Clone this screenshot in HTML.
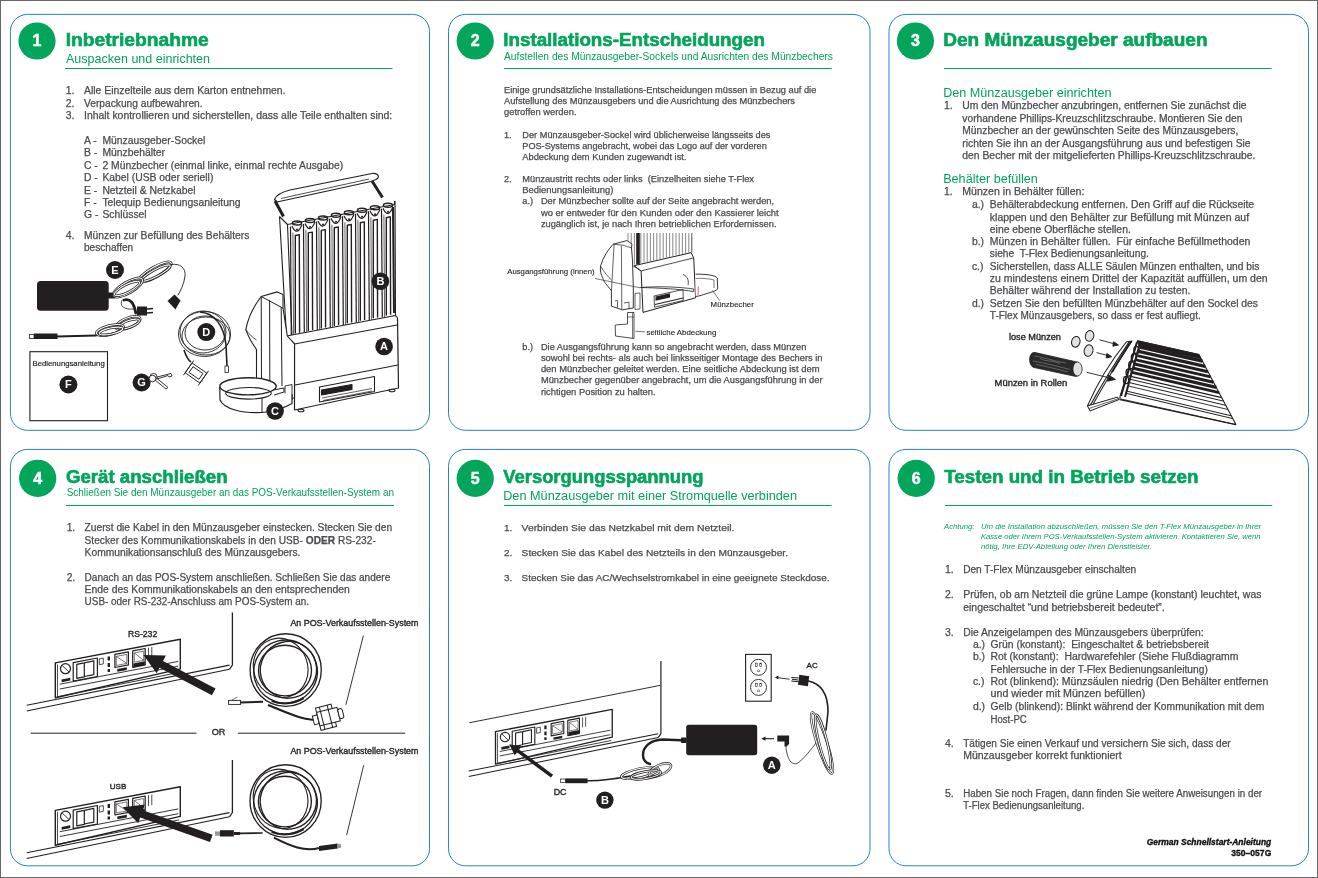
<!DOCTYPE html>
<html><head><meta charset="utf-8"><title>T-Flex Schnellstart</title>
<style>
html,body{margin:0;padding:0;background:#fff;}
body{width:1318px;height:878px;overflow:hidden;position:relative;}
svg{will-change:transform;display:block;font-family:"Liberation Sans",sans-serif;}

</style></head>
<body>
<svg width="1318" height="878" viewBox="0 0 1318 878" font-family="Liberation Sans, sans-serif" fill="#4a4b4f">
<rect x="0.5" y="0.5" width="1317" height="877" fill="#fff" stroke="#666" stroke-width="1"/>
<rect x="10.4" y="14.4" width="419.1" height="415.90000000000003" rx="17" ry="17" fill="none" stroke="#2a7fc8" stroke-width="1"/>
<rect x="448.5" y="14.4" width="421.5" height="415.90000000000003" rx="17" ry="17" fill="none" stroke="#2a7fc8" stroke-width="1"/>
<rect x="889.0" y="14.4" width="419.5" height="415.90000000000003" rx="17" ry="17" fill="none" stroke="#2a7fc8" stroke-width="1"/>
<rect x="10.4" y="449.4" width="419.1" height="416.4" rx="17" ry="17" fill="none" stroke="#2a7fc8" stroke-width="1"/>
<rect x="448.5" y="449.4" width="421.5" height="416.4" rx="17" ry="17" fill="none" stroke="#2a7fc8" stroke-width="1"/>
<rect x="889.0" y="449.4" width="419.5" height="416.4" rx="17" ry="17" fill="none" stroke="#2a7fc8" stroke-width="1"/>
<circle cx="37" cy="41" r="18.6" fill="#02a55a"/>
<text x="37" y="46.4" font-size="16" font-weight="700" fill="#fff" stroke="#fff" stroke-width="0.5" text-anchor="middle">1</text>
<text x="65.7" y="46.2" font-size="18.0" fill="#02a55a" font-weight="700" textLength="143" lengthAdjust="spacingAndGlyphs" stroke="#02a55a" stroke-width="0.6">Inbetriebnahme</text>
<text x="66" y="62.7" font-size="12.5" fill="#02a55a" textLength="144" lengthAdjust="spacingAndGlyphs">Auspacken und einrichten</text>
<rect x="65" y="68" width="327.4" height="1" fill="#02a55a"/>
<text x="65.8" y="94.2" font-size="10.35" stroke="#4a4b4f" stroke-width="0.25">1.</text>
<text x="84" y="94.2" font-size="10.35" textLength="201.5" lengthAdjust="spacingAndGlyphs" stroke="#4a4b4f" stroke-width="0.25">Alle Einzelteile aus dem Karton entnehmen.</text>
<text x="65.8" y="106.8" font-size="10.35" stroke="#4a4b4f" stroke-width="0.25">2.</text>
<text x="84" y="106.8" font-size="10.35" textLength="118.6" lengthAdjust="spacingAndGlyphs" stroke="#4a4b4f" stroke-width="0.25">Verpackung aufbewahren.</text>
<text x="65.8" y="119.2" font-size="10.35" stroke="#4a4b4f" stroke-width="0.25">3.</text>
<text x="84" y="119.2" font-size="10.35" textLength="308.2" lengthAdjust="spacingAndGlyphs" stroke="#4a4b4f" stroke-width="0.25">Inhalt kontrollieren und sicherstellen, dass alle Teile enthalten sind:</text>
<text x="84" y="143.6" font-size="10.35" stroke="#4a4b4f" stroke-width="0.25">A -</text>
<text x="102.4" y="143.6" font-size="10.35" stroke="#4a4b4f" stroke-width="0.25">Münzausgeber-Sockel</text>
<text x="84" y="156" font-size="10.35" stroke="#4a4b4f" stroke-width="0.25">B -</text>
<text x="102.4" y="156" font-size="10.35" stroke="#4a4b4f" stroke-width="0.25">Münzbehälter</text>
<text x="84" y="168.8" font-size="10.35" stroke="#4a4b4f" stroke-width="0.25">C -</text>
<text x="102.4" y="168.8" font-size="10.35" stroke="#4a4b4f" stroke-width="0.25">2 Münzbecher (einmal linke, einmal rechte Ausgabe)</text>
<text x="84" y="181.1" font-size="10.35" stroke="#4a4b4f" stroke-width="0.25">D -</text>
<text x="102.4" y="181.1" font-size="10.35" stroke="#4a4b4f" stroke-width="0.25">Kabel (USB oder seriell)</text>
<text x="84" y="193.6" font-size="10.35" stroke="#4a4b4f" stroke-width="0.25">E -</text>
<text x="102.4" y="193.6" font-size="10.35" stroke="#4a4b4f" stroke-width="0.25">Netzteil &amp; Netzkabel</text>
<text x="84" y="206.1" font-size="10.35" stroke="#4a4b4f" stroke-width="0.25">F -</text>
<text x="102.4" y="206.1" font-size="10.35" stroke="#4a4b4f" stroke-width="0.25">Telequip Bedienungsanleitung</text>
<text x="84" y="218.4" font-size="10.35" stroke="#4a4b4f" stroke-width="0.25">G -</text>
<text x="102.4" y="218.4" font-size="10.35" stroke="#4a4b4f" stroke-width="0.25">Schlüssel</text>
<text x="65.8" y="238.8" font-size="10.35" stroke="#4a4b4f" stroke-width="0.25">4.</text>
<text x="84" y="238.8" font-size="10.35" textLength="165.3" lengthAdjust="spacingAndGlyphs" stroke="#4a4b4f" stroke-width="0.25">Münzen zur Befüllung des Behälters</text>
<text x="84" y="250.9" font-size="10.35" textLength="49.2" lengthAdjust="spacingAndGlyphs" stroke="#4a4b4f" stroke-width="0.25">beschaffen</text>
<circle cx="475.2" cy="41" r="18.6" fill="#02a55a"/>
<text x="475.2" y="46.4" font-size="16" font-weight="700" fill="#fff" stroke="#fff" stroke-width="0.5" text-anchor="middle">2</text>
<text x="503.3" y="46.4" font-size="18.0" fill="#02a55a" font-weight="700" textLength="261.6" lengthAdjust="spacingAndGlyphs" stroke="#02a55a" stroke-width="0.6">Installations-Entscheidungen</text>
<text x="504" y="59.5" font-size="10.3" fill="#02a55a" textLength="328.9" lengthAdjust="spacingAndGlyphs">Aufstellen des Münzausgeber-Sockels und Ausrichten des Münzbechers</text>
<rect x="504" y="68" width="327.6" height="1" fill="#02a55a"/>
<text x="504" y="93.4" font-size="9.2" textLength="312.3" lengthAdjust="spacingAndGlyphs" stroke="#4a4b4f" stroke-width="0.25">Einige grundsätzliche Installations-Entscheidungen müssen in Bezug auf die</text>
<text x="504" y="104.3" font-size="9.2" textLength="291.0" lengthAdjust="spacingAndGlyphs" stroke="#4a4b4f" stroke-width="0.25">Aufstellung des Münzausgebers und die Ausrichtung des Münzbechers</text>
<text x="504" y="115.2" font-size="9.2" textLength="72.5" lengthAdjust="spacingAndGlyphs" stroke="#4a4b4f" stroke-width="0.25">getroffen werden.</text>
<text x="504" y="137.6" font-size="9.2" stroke="#4a4b4f" stroke-width="0.25">1.</text>
<text x="522.3" y="137.6" font-size="9.2" textLength="248.2" lengthAdjust="spacingAndGlyphs" stroke="#4a4b4f" stroke-width="0.25">Der Münzausgeber-Sockel wird üblicherweise längsseits des</text>
<text x="522.3" y="148.8" font-size="9.2" textLength="244.5" lengthAdjust="spacingAndGlyphs" stroke="#4a4b4f" stroke-width="0.25">POS-Systems angebracht, wobei das Logo auf der vorderen</text>
<text x="522.3" y="160" font-size="9.2" textLength="164.2" lengthAdjust="spacingAndGlyphs" stroke="#4a4b4f" stroke-width="0.25">Abdeckung dem Kunden zugewandt ist.</text>
<text x="504" y="182.4" font-size="9.2" stroke="#4a4b4f" stroke-width="0.25">2.</text>
<text x="522.3" y="182.4" font-size="9.2" textLength="231.7" lengthAdjust="spacingAndGlyphs" stroke="#4a4b4f" stroke-width="0.25" xml:space="preserve">Münzaustritt rechts oder links  (Einzelheiten siehe T-Flex</text>
<text x="522.3" y="193.3" font-size="9.2" textLength="91.0" lengthAdjust="spacingAndGlyphs" stroke="#4a4b4f" stroke-width="0.25">Bedienungsanleitung)</text>
<text x="522.3" y="204.2" font-size="9.2" stroke="#4a4b4f" stroke-width="0.25">a.)</text>
<text x="540.9" y="204.2" font-size="9.2" textLength="233.2" lengthAdjust="spacingAndGlyphs" stroke="#4a4b4f" stroke-width="0.25">Der Münzbecher sollte auf der Seite angebracht werden,</text>
<text x="540.9" y="215.7" font-size="9.2" textLength="237.8" lengthAdjust="spacingAndGlyphs" stroke="#4a4b4f" stroke-width="0.25">wo er entweder für den Kunden oder den Kassierer leicht</text>
<text x="540.9" y="227" font-size="9.2" textLength="235.6" lengthAdjust="spacingAndGlyphs" stroke="#4a4b4f" stroke-width="0.25">zugänglich ist, je nach Ihren betrieblichen Erfordernissen.</text>
<text x="522.3" y="349.7" font-size="9.2" stroke="#4a4b4f" stroke-width="0.25">b.)</text>
<text x="540.9" y="349.7" font-size="9.2" textLength="265.4" lengthAdjust="spacingAndGlyphs" stroke="#4a4b4f" stroke-width="0.25">Die Ausgangsführung kann so angebracht werden, dass Münzen</text>
<text x="540.9" y="360.9" font-size="9.2" textLength="281.6" lengthAdjust="spacingAndGlyphs" stroke="#4a4b4f" stroke-width="0.25">sowohl bei rechts- als auch bei linksseitiger Montage des Bechers in</text>
<text x="540.9" y="372.1" font-size="9.2" textLength="278.6" lengthAdjust="spacingAndGlyphs" stroke="#4a4b4f" stroke-width="0.25">den Münzbecher geleitet werden. Eine seitliche Abdeckung ist dem</text>
<text x="540.9" y="383.3" font-size="9.2" textLength="281.6" lengthAdjust="spacingAndGlyphs" stroke="#4a4b4f" stroke-width="0.25">Münzbecher gegenüber angebracht, um die Ausgangsführung in der</text>
<text x="540.9" y="394.5" font-size="9.2" textLength="114.7" lengthAdjust="spacingAndGlyphs" stroke="#4a4b4f" stroke-width="0.25">richtigen Position zu halten.</text>
<text x="507.2" y="274.4" font-size="7.8" fill="#231f20" textLength="87.4" lengthAdjust="spacingAndGlyphs" stroke="#231f20" stroke-width="0.12">Ausgangsführung (innen)</text>
<text x="710.6" y="306.5" font-size="7.85" fill="#231f20" textLength="43.2" lengthAdjust="spacingAndGlyphs" stroke="#231f20" stroke-width="0.12">Münzbecher</text>
<text x="646.5" y="334.6" font-size="7.9" fill="#231f20" textLength="69.8" lengthAdjust="spacingAndGlyphs" stroke="#231f20" stroke-width="0.12">seitliche Abdeckung</text>
<circle cx="915.4" cy="41" r="18.6" fill="#02a55a"/>
<text x="915.4" y="46.4" font-size="16" font-weight="700" fill="#fff" stroke="#fff" stroke-width="0.5" text-anchor="middle">3</text>
<text x="943.3" y="46" font-size="18.0" fill="#02a55a" font-weight="700" textLength="264.2" lengthAdjust="spacingAndGlyphs" stroke="#02a55a" stroke-width="0.6">Den Münzausgeber aufbauen</text>
<rect x="944" y="68" width="327.5999999999999" height="1" fill="#02a55a"/>
<text x="943.2" y="96.6" font-size="12.5" fill="#02a55a" textLength="168.3" lengthAdjust="spacingAndGlyphs">Den Münzausgeber einrichten</text>
<text x="944" y="109.4" font-size="10.35" stroke="#4a4b4f" stroke-width="0.25">1.</text>
<text x="962.3" y="109.4" font-size="10.35" textLength="284.2" lengthAdjust="spacingAndGlyphs" stroke="#4a4b4f" stroke-width="0.25">Um den Münzbecher anzubringen, entfernen Sie zunächst die</text>
<text x="962.3" y="121.9" font-size="10.35" textLength="280.1" lengthAdjust="spacingAndGlyphs" stroke="#4a4b4f" stroke-width="0.25">vorhandene Phillips-Kreuzschlitzschraube. Montieren Sie den</text>
<text x="962.3" y="134.4" font-size="10.35" textLength="276.0" lengthAdjust="spacingAndGlyphs" stroke="#4a4b4f" stroke-width="0.25">Münzbecher an der gewünschten Seite des Münzausgebers,</text>
<text x="962.3" y="146.9" font-size="10.35" textLength="288.3" lengthAdjust="spacingAndGlyphs" stroke="#4a4b4f" stroke-width="0.25">richten Sie ihn an der Ausgangsführung aus und befestigen Sie</text>
<text x="962.3" y="159.1" font-size="10.35" textLength="293.1" lengthAdjust="spacingAndGlyphs" stroke="#4a4b4f" stroke-width="0.25">den Becher mit der mitgelieferten Phillips-Kreuzschlitzschraube.</text>
<text x="943.2" y="182.7" font-size="12.5" fill="#02a55a" textLength="94.7" lengthAdjust="spacingAndGlyphs">Behälter befüllen</text>
<text x="944" y="195.2" font-size="10.35" stroke="#4a4b4f" stroke-width="0.25">1.</text>
<text x="962.3" y="195.2" font-size="10.35" textLength="122.1" lengthAdjust="spacingAndGlyphs" stroke="#4a4b4f" stroke-width="0.25">Münzen in Behälter füllen:</text>
<text x="971.9" y="208" font-size="10.35" stroke="#4a4b4f" stroke-width="0.25">a.)</text>
<text x="989.8" y="208" font-size="10.35" textLength="264.3" lengthAdjust="spacingAndGlyphs" stroke="#4a4b4f" stroke-width="0.25">Behälterabdeckung entfernen. Den Griff auf die Rückseite</text>
<text x="989.8" y="220.5" font-size="10.35" textLength="259.3" lengthAdjust="spacingAndGlyphs" stroke="#4a4b4f" stroke-width="0.25">klappen und den Behälter zur Befüllung mit Münzen auf</text>
<text x="989.8" y="232.6" font-size="10.35" textLength="141.0" lengthAdjust="spacingAndGlyphs" stroke="#4a4b4f" stroke-width="0.25">eine ebene Oberfläche stellen.</text>
<text x="971.9" y="245" font-size="10.35" stroke="#4a4b4f" stroke-width="0.25">b.)</text>
<text x="989.8" y="245" font-size="10.35" textLength="260.5" lengthAdjust="spacingAndGlyphs" stroke="#4a4b4f" stroke-width="0.25" xml:space="preserve">Münzen in Behälter füllen.  Für einfache Befüllmethoden</text>
<text x="989.8" y="256.8" font-size="10.35" textLength="159.1" lengthAdjust="spacingAndGlyphs" stroke="#4a4b4f" stroke-width="0.25" xml:space="preserve">siehe  T-Flex Bedienungsanleitung.</text>
<text x="971.9" y="269.6" font-size="10.35" stroke="#4a4b4f" stroke-width="0.25">c.)</text>
<text x="989.8" y="269.6" font-size="10.35" textLength="269.5" lengthAdjust="spacingAndGlyphs" stroke="#4a4b4f" stroke-width="0.25">Sicherstellen, dass ALLE Säulen Münzen enthalten, und bis</text>
<text x="989.8" y="281.8" font-size="10.35" textLength="277.8" lengthAdjust="spacingAndGlyphs" stroke="#4a4b4f" stroke-width="0.25">zu mindestens einem Drittel der Kapazität auffüllen, um den</text>
<text x="989.8" y="294.3" font-size="10.35" textLength="200.6" lengthAdjust="spacingAndGlyphs" stroke="#4a4b4f" stroke-width="0.25">Behälter während der Installation zu testen.</text>
<text x="971.9" y="306.5" font-size="10.35" stroke="#4a4b4f" stroke-width="0.25">d.)</text>
<text x="989.8" y="306.5" font-size="10.35" textLength="268.2" lengthAdjust="spacingAndGlyphs" stroke="#4a4b4f" stroke-width="0.25">Setzen Sie den befüllten Münzbehälter auf den Sockel des</text>
<text x="989.8" y="319.3" font-size="10.35" textLength="211.0" lengthAdjust="spacingAndGlyphs" stroke="#4a4b4f" stroke-width="0.25">T-Flex Münzausgebers, so dass er fest aufliegt.</text>
<text x="1009" y="340" font-size="9.15" fill="#231f20" textLength="51.9" lengthAdjust="spacingAndGlyphs" stroke="#231f20" stroke-width="0.35">lose Münzen</text>
<text x="994.6" y="385.5" font-size="9.4" fill="#231f20" textLength="72.7" lengthAdjust="spacingAndGlyphs" stroke="#231f20" stroke-width="0.35">Münzen in Rollen</text>
<circle cx="37.7" cy="478.3" r="18.6" fill="#02a55a"/>
<text x="37.7" y="483.7" font-size="16" font-weight="700" fill="#fff" stroke="#fff" stroke-width="0.5" text-anchor="middle">4</text>
<text x="66.0" y="482.5" font-size="18.0" fill="#02a55a" font-weight="700" textLength="161.6" lengthAdjust="spacingAndGlyphs" stroke="#02a55a" stroke-width="0.6">Gerät anschließen</text>
<text x="66.7" y="495.8" font-size="10" fill="#02a55a" textLength="327.3" lengthAdjust="spacingAndGlyphs">Schließen Sie den Münzausgeber an das POS-Verkaufsstellen-System an</text>
<rect x="66" y="505" width="328" height="1" fill="#02a55a"/>
<text x="66.7" y="531.2" font-size="10.23" stroke="#4a4b4f" stroke-width="0.25">1.</text>
<text x="84.6" y="531.2" font-size="10.23" textLength="307.5" lengthAdjust="spacingAndGlyphs" stroke="#4a4b4f" stroke-width="0.25">Zuerst die Kabel in den Münzausgeber einstecken. Stecken Sie den</text>
<text x="84.6" y="543.6" font-size="10.23" textLength="291.2" lengthAdjust="spacingAndGlyphs" stroke="#4a4b4f" stroke-width="0.25">Stecker des Kommunikationskabels in den USB- <tspan font-weight="700">ODER</tspan> RS-232-</text>
<text x="84.6" y="555.8" font-size="10.23" textLength="215.9" lengthAdjust="spacingAndGlyphs" stroke="#4a4b4f" stroke-width="0.25">Kommunikationsanschluß des Münzausgebers.</text>
<text x="66.7" y="580.6" font-size="10.23" stroke="#4a4b4f" stroke-width="0.25">2.</text>
<text x="84.6" y="580.6" font-size="10.23" textLength="305.7" lengthAdjust="spacingAndGlyphs" stroke="#4a4b4f" stroke-width="0.25">Danach an das POS-System anschließen. Schließen Sie das andere</text>
<text x="84.6" y="593" font-size="10.23" textLength="265.1" lengthAdjust="spacingAndGlyphs" stroke="#4a4b4f" stroke-width="0.25">Ende des Kommunikationskabels an den entsprechenden</text>
<text x="84.6" y="605.2" font-size="10.23" textLength="224.4" lengthAdjust="spacingAndGlyphs" stroke="#4a4b4f" stroke-width="0.25">USB- oder RS-232-Anschluss am POS-System an.</text>
<text x="290.4" y="626.1" font-size="8.9" fill="#231f20" textLength="128.1" lengthAdjust="spacingAndGlyphs" stroke="#231f20" stroke-width="0.35">An POS-Verkaufsstellen-System</text>
<text x="127.9" y="637.3" font-size="8.6" fill="#231f20" textLength="29.3" lengthAdjust="spacingAndGlyphs" stroke="#231f20" stroke-width="0.35">RS-232</text>
<text x="211.7" y="735.4" font-size="9.1" fill="#231f20" textLength="13.7" lengthAdjust="spacingAndGlyphs" stroke="#231f20" stroke-width="0.35">OR</text>
<text x="290.4" y="753.6" font-size="8.9" fill="#231f20" textLength="128.1" lengthAdjust="spacingAndGlyphs" stroke="#231f20" stroke-width="0.35">An POS-Verkaufsstellen-System</text>
<text x="109.7" y="789" font-size="8.1" fill="#231f20" textLength="16.6" lengthAdjust="spacingAndGlyphs" stroke="#231f20" stroke-width="0.35">USB</text>
<circle cx="475.2" cy="478.4" r="18.6" fill="#02a55a"/>
<text x="475.2" y="483.79999999999995" font-size="16" font-weight="700" fill="#fff" stroke="#fff" stroke-width="0.5" text-anchor="middle">5</text>
<text x="503.3" y="482.6" font-size="18.0" fill="#02a55a" font-weight="700" textLength="200.2" lengthAdjust="spacingAndGlyphs" stroke="#02a55a" stroke-width="0.6">Versorgungsspannung</text>
<text x="503.2" y="499.6" font-size="12.6" fill="#02a55a" textLength="293.8" lengthAdjust="spacingAndGlyphs">Den Münzausgeber mit einer Stromquelle verbinden</text>
<rect x="504" y="505" width="327.6" height="1" fill="#02a55a"/>
<text x="504" y="531.3" font-size="9.96" stroke="#4a4b4f" stroke-width="0.25">1.</text>
<text x="521.6" y="531.3" font-size="9.96" textLength="212.8" lengthAdjust="spacingAndGlyphs" stroke="#4a4b4f" stroke-width="0.25">Verbinden Sie das Netzkabel mit dem Netzteil.</text>
<text x="504" y="556.0" font-size="9.96" stroke="#4a4b4f" stroke-width="0.25">2.</text>
<text x="521.6" y="556.0" font-size="9.96" textLength="266.4" lengthAdjust="spacingAndGlyphs" stroke="#4a4b4f" stroke-width="0.25">Stecken Sie das Kabel des Netzteils in den Münzausgeber.</text>
<text x="504" y="580.7" font-size="9.96" stroke="#4a4b4f" stroke-width="0.25">3.</text>
<text x="521.6" y="580.7" font-size="9.96" textLength="307.9" lengthAdjust="spacingAndGlyphs" stroke="#4a4b4f" stroke-width="0.25">Stecken Sie das AC/Wechselstromkabel in eine geeignete Steckdose.</text>
<text x="806.6" y="668.2" font-size="8" fill="#231f20" textLength="11.2" lengthAdjust="spacingAndGlyphs" stroke="#231f20" stroke-width="0.35">AC</text>
<text x="553.7" y="795.3" font-size="8.9" fill="#231f20" textLength="12.8" lengthAdjust="spacingAndGlyphs" stroke="#231f20" stroke-width="0.35">DC</text>
<circle cx="916.2" cy="478.4" r="18.6" fill="#02a55a"/>
<text x="916.2" y="483.79999999999995" font-size="16" font-weight="700" fill="#fff" stroke="#fff" stroke-width="0.5" text-anchor="middle">6</text>
<text x="944.3" y="483" font-size="18.0" fill="#02a55a" font-weight="700" textLength="254.2" lengthAdjust="spacingAndGlyphs" stroke="#02a55a" stroke-width="0.6">Testen und in Betrieb setzen</text>
<rect x="945" y="505" width="327.20000000000005" height="1" fill="#02a55a"/>
<text x="944" y="529" font-size="7.7" fill="#02a55a" font-style="italic" textLength="30.5" lengthAdjust="spacingAndGlyphs">Achtung:</text>
<text x="980.9" y="529" font-size="7.78" fill="#02a55a" font-style="italic" textLength="280.3" lengthAdjust="spacingAndGlyphs">Um die Installation abzuschließen, müssen Sie den T-Flex Münzausgeber in Ihrer</text>
<text x="980.9" y="539.3" font-size="7.78" fill="#02a55a" font-style="italic" textLength="279.7" lengthAdjust="spacingAndGlyphs">Kasse oder Ihrem POS-Verkaufsstellen-System aktivieren. Kontaktieren Sie, wenn</text>
<text x="980.9" y="549.2" font-size="7.78" fill="#02a55a" font-style="italic" textLength="171.1" lengthAdjust="spacingAndGlyphs">nötig, Ihre EDV-Abteilung oder Ihren Dienstleister.</text>
<text x="945" y="573.1" font-size="10.44" stroke="#4a4b4f" stroke-width="0.25">1.</text>
<text x="963.2" y="573.1" font-size="10.44" textLength="173.0" lengthAdjust="spacingAndGlyphs" stroke="#4a4b4f" stroke-width="0.25">Den T-Flex Münzausgeber einschalten</text>
<text x="945" y="598.1" font-size="10.44" stroke="#4a4b4f" stroke-width="0.25">2.</text>
<text x="963.2" y="598.1" font-size="10.44" textLength="298.3" lengthAdjust="spacingAndGlyphs" stroke="#4a4b4f" stroke-width="0.25">Prüfen, ob am Netzteil die grüne Lampe (konstant) leuchtet, was</text>
<text x="963.2" y="610.5" font-size="10.44" textLength="201.5" lengthAdjust="spacingAndGlyphs" stroke="#4a4b4f" stroke-width="0.25">eingeschaltet “und betriebsbereit bedeutet”.</text>
<text x="945" y="635.5" font-size="10.44" stroke="#4a4b4f" stroke-width="0.25">3.</text>
<text x="963.2" y="635.5" font-size="10.44" textLength="240.4" lengthAdjust="spacingAndGlyphs" stroke="#4a4b4f" stroke-width="0.25">Die Anzeigelampen des Münzausgebers überprüfen:</text>
<text x="972.9" y="647.8" font-size="10.44" stroke="#4a4b4f" stroke-width="0.25">a.)</text>
<text x="990.5" y="647.8" font-size="10.44" textLength="218.5" lengthAdjust="spacingAndGlyphs" stroke="#4a4b4f" stroke-width="0.25" xml:space="preserve">Grün (konstant):  Eingeschaltet &amp; betriebsbereit</text>
<text x="972.9" y="660.0" font-size="10.44" stroke="#4a4b4f" stroke-width="0.25">b.)</text>
<text x="990.5" y="660.0" font-size="10.44" textLength="247.9" lengthAdjust="spacingAndGlyphs" stroke="#4a4b4f" stroke-width="0.25" xml:space="preserve">Rot (konstant):  Hardwarefehler (Siehe Flußdiagramm</text>
<text x="990.5" y="672.8" font-size="10.44" textLength="217.3" lengthAdjust="spacingAndGlyphs" stroke="#4a4b4f" stroke-width="0.25">Fehlersuche in der T-Flex Bedienungsanleitung)</text>
<text x="972.9" y="685.0" font-size="10.44" stroke="#4a4b4f" stroke-width="0.25">c.)</text>
<text x="990.5" y="685.0" font-size="10.44" textLength="277.8" lengthAdjust="spacingAndGlyphs" stroke="#4a4b4f" stroke-width="0.25">Rot (blinkend): Münzsäulen niedrig (Den Behälter entfernen</text>
<text x="990.5" y="697.2" font-size="10.44" textLength="154.8" lengthAdjust="spacingAndGlyphs" stroke="#4a4b4f" stroke-width="0.25">und wieder mit Münzen befüllen)</text>
<text x="972.9" y="709.6" font-size="10.44" stroke="#4a4b4f" stroke-width="0.25">d.)</text>
<text x="990.5" y="709.6" font-size="10.44" textLength="273.8" lengthAdjust="spacingAndGlyphs" stroke="#4a4b4f" stroke-width="0.25">Gelb (blinkend): Blinkt während der Kommunikation mit dem</text>
<text x="990.5" y="722.5" font-size="10.44" textLength="36.2" lengthAdjust="spacingAndGlyphs" stroke="#4a4b4f" stroke-width="0.25">Host-PC</text>
<text x="945" y="747.4" font-size="10.44" stroke="#4a4b4f" stroke-width="0.25">4.</text>
<text x="963.2" y="747.4" font-size="10.44" textLength="267.5" lengthAdjust="spacingAndGlyphs" stroke="#4a4b4f" stroke-width="0.25">Tätigen Sie einen Verkauf und versichern Sie sich, dass der</text>
<text x="963.2" y="759.3" font-size="10.44" textLength="158.6" lengthAdjust="spacingAndGlyphs" stroke="#4a4b4f" stroke-width="0.25">Münzausgeber korrekt funktioniert</text>
<text x="945" y="796.8" font-size="10.44" stroke="#4a4b4f" stroke-width="0.25">5.</text>
<text x="963.2" y="796.8" font-size="10.44" textLength="298.9" lengthAdjust="spacingAndGlyphs" stroke="#4a4b4f" stroke-width="0.25">Haben Sie noch Fragen, dann finden Sie weitere Anweisungen in der</text>
<text x="963.2" y="809.2" font-size="10.44" textLength="121.1" lengthAdjust="spacingAndGlyphs" stroke="#4a4b4f" stroke-width="0.25">T-Flex Bedienungsanleitung.</text>
<text x="1271.3" y="845" font-size="8.46" fill="#111" font-weight="700" font-style="italic" textLength="124.6" lengthAdjust="spacingAndGlyphs" text-anchor="end" stroke="#111" stroke-width="0.35">German Schnellstart-Anleitung</text>
<text x="1271.3" y="855.5" font-size="9" fill="#111" font-weight="700" textLength="40" lengthAdjust="spacingAndGlyphs" text-anchor="end" stroke="#111" stroke-width="0.35">350–057G</text>
<g fill="none" stroke="#231f20" stroke-width="1.1" stroke-linejoin="round">
<path d="M279.5,216.5 L287.5,224.5 L394.5,204.5 L394.5,201 M279.5,216.5 L286.5,336 M287.5,224.5 L292,336 M395,201 L395.5,315.5" />
<path d="M290.5,226.5 L291.3,335.5" stroke-width="1.2"/>
<path d="M292.9,232.5 L293.6,335.5" stroke-width="0.7"/>
<path d="M295.3,333.5 L295.3,235.5 L299.3,234.7 L299.6,332.7" stroke-width="1.4"/>
<path d="M292.0,226.0 Q297.0,237.0 302.0,224.5" stroke-width="1.2"/>
<circle cx="297.0" cy="229.5" r="1" fill="#231f20" stroke="none"/>
<ellipse cx="297.0" cy="223.0" rx="4.6" ry="2" stroke-width="1.5"/>
<path d="M303.5,223.9 L304.3,332.9" stroke-width="1.2"/>
<path d="M305.9,229.9 L306.6,332.9" stroke-width="0.7"/>
<path d="M308.3,330.9 L308.3,232.9 L312.3,232.1 L312.6,330.1" stroke-width="1.4"/>
<path d="M305.0,223.4 Q310.0,234.4 315.0,221.9" stroke-width="1.2"/>
<circle cx="310.0" cy="226.9" r="1" fill="#231f20" stroke="none"/>
<ellipse cx="310.0" cy="220.4" rx="4.6" ry="2" stroke-width="1.5"/>
<path d="M316.5,221.4 L317.3,330.4" stroke-width="1.2"/>
<path d="M318.9,227.4 L319.6,330.4" stroke-width="0.7"/>
<path d="M321.3,328.4 L321.3,230.4 L325.3,229.6 L325.6,327.6" stroke-width="1.4"/>
<path d="M318.0,220.9 Q323.0,231.9 328.0,219.4" stroke-width="1.2"/>
<circle cx="323.0" cy="224.4" r="1" fill="#231f20" stroke="none"/>
<ellipse cx="323.0" cy="217.9" rx="4.6" ry="2" stroke-width="1.5"/>
<path d="M329.5,218.8 L330.3,327.9" stroke-width="1.2"/>
<path d="M331.9,224.8 L332.6,327.9" stroke-width="0.7"/>
<path d="M334.3,325.9 L334.3,227.8 L338.3,227.0 L338.6,325.1" stroke-width="1.4"/>
<path d="M331.0,218.3 Q336.0,229.3 341.0,216.8" stroke-width="1.2"/>
<circle cx="336.0" cy="221.8" r="1" fill="#231f20" stroke="none"/>
<ellipse cx="336.0" cy="215.3" rx="4.6" ry="2" stroke-width="1.5"/>
<path d="M342.5,216.3 L343.3,325.3" stroke-width="1.2"/>
<path d="M344.9,222.3 L345.6,325.3" stroke-width="0.7"/>
<path d="M347.3,323.3 L347.3,225.3 L351.3,224.5 L351.6,322.5" stroke-width="1.4"/>
<path d="M344.0,215.8 Q349.0,226.8 354.0,214.3" stroke-width="1.2"/>
<circle cx="349.0" cy="219.3" r="1" fill="#231f20" stroke="none"/>
<ellipse cx="349.0" cy="212.8" rx="4.6" ry="2" stroke-width="1.5"/>
<path d="M355.5,213.8 L356.3,322.8" stroke-width="1.2"/>
<path d="M357.9,219.8 L358.6,322.8" stroke-width="0.7"/>
<path d="M360.3,320.8 L360.3,222.8 L364.3,221.9 L364.6,319.9" stroke-width="1.4"/>
<path d="M357.0,213.2 Q362.0,224.2 367.0,211.8" stroke-width="1.2"/>
<circle cx="362.0" cy="216.8" r="1" fill="#231f20" stroke="none"/>
<ellipse cx="362.0" cy="210.2" rx="4.6" ry="2" stroke-width="1.5"/>
<path d="M368.5,211.2 L369.3,320.2" stroke-width="1.2"/>
<path d="M370.9,217.2 L371.6,320.2" stroke-width="0.7"/>
<path d="M373.3,318.2 L373.3,220.2 L377.3,219.4 L377.6,317.4" stroke-width="1.4"/>
<path d="M370.0,210.7 Q375.0,221.7 380.0,209.2" stroke-width="1.2"/>
<circle cx="375.0" cy="214.2" r="1" fill="#231f20" stroke="none"/>
<ellipse cx="375.0" cy="207.7" rx="4.6" ry="2" stroke-width="1.5"/>
<path d="M381.5,208.7 L382.3,317.6" stroke-width="1.2"/>
<path d="M383.9,214.7 L384.6,317.6" stroke-width="0.7"/>
<path d="M386.3,315.6 L386.3,217.7 L390.3,216.8 L390.6,314.8" stroke-width="1.4"/>
<path d="M383.0,208.2 Q388.0,219.2 393.0,206.7" stroke-width="1.2"/>
<circle cx="388.0" cy="211.7" r="1" fill="#231f20" stroke="none"/>
<ellipse cx="388.0" cy="205.2" rx="4.6" ry="2" stroke-width="1.5"/>
<path d="M288,337 L300,334 L301,336 L313,331.5 L314,333.5 L326,329 L327,331 L339,326.5 L340,328.5 L352,324 L353,326 L365,321.5 L366,323.5 L378,319 L379,321 L394,316" stroke-width="1"/>
<path d="M393,207 L394,313" stroke-width="2"/>
<path d="M274.5,199.5 C276,195 282,192 290,190 L372,173.5 C379,172.5 380,178 376,179.5 L371,181.5 L277,202 Z" fill="#fff" stroke-width="1.2"/>
<path d="M281,198.5 L369,179" stroke-width="0.8"/>
<path d="M275,201 L283.5,216.5" stroke-width="3"/>
<path d="M372,181 L382.5,197.5" stroke-width="3"/>
<path d="M286.5,336 L395.5,315.5 L397.5,318 L398.5,388 L294.5,410 L294.5,344 Z" fill="#fff" stroke-width="1.2"/>
<path d="M286.5,336 L294.5,344 L397,325" />
<path d="M295,385 L398,365" />
<path d="M319.5,387 L374.5,376.5 L374.5,391.5 L319.5,402 Z" />
<path d="M321.5,390 L352,384.5 L352,389.5 L321.5,395 Z" fill="#231f20"/>
<path d="M322,398 L372,388.5 M323,400.5 L372,391" stroke-width="0.7"/>
<ellipse cx="301" cy="410.5" rx="3" ry="1.2"/><ellipse cx="392" cy="390.5" rx="3" ry="1.2"/>
<path d="M261.2,296.5 L277.3,291.9 L283,294.5 L283,308 L287.3,336 L294.5,344 L294.5,398 L256.5,398 L256.5,349.6 C252,343 248,336 245.8,329.6 C248,318 254,306 261.2,296.5 Z" fill="#fff" stroke-width="1.1"/>
<path d="M261.2,296.5 L282.7,308 M261.2,297 L261.5,382 M269.6,300 L269.8,383 M281.2,307 L282,386" stroke-width="1"/>
<path d="M245.8,329.6 C249,334 253,338 256.5,340" stroke-width="0.8"/>
<path d="M285,386 L292,384.5 L292,400 L285,401.5 Z" stroke-width="0.9"/>
<path d="M219.8,387 L220,400 C224,409 242,413.5 262,412.5 C275,411.5 286,407 292,403.5 L292,394" fill="#fff" stroke-width="1.2"/>
<ellipse cx="248" cy="386.3" rx="28.2" ry="8.6" fill="#fff" stroke-width="1.4"/>
<ellipse cx="248.5" cy="393.3" rx="22.8" ry="5.8" stroke-width="1.1"/>
<path d="M262,398 L262,412 M273,390 L284,388 L284,392 L274,395" stroke-width="1"/>
</g>
<circle cx="380.4" cy="281.3" r="8.8" fill="#231f20"/>
<text x="380.4" y="285.2" font-size="11" font-weight="700" fill="#fff" text-anchor="middle">B</text>
<circle cx="384.1" cy="346.5" r="8.8" fill="#231f20"/>
<text x="384.1" y="350.4" font-size="11" font-weight="700" fill="#fff" text-anchor="middle">A</text>
<circle cx="275.1" cy="411" r="8.8" fill="#231f20"/>
<text x="275.1" y="414.9" font-size="11" font-weight="700" fill="#fff" text-anchor="middle">C</text>
<rect x="37" y="281" width="71.7" height="29.8" rx="3.5" fill="#231f20"/>
<rect x="108" y="292.5" width="7" height="6" fill="#231f20"/>
<g fill="none" stroke-linecap="round">
<ellipse cx="155" cy="272" rx="18.5" ry="5" transform="rotate(-30 155 272)" stroke="#231f20" stroke-width="2.6"/>
<ellipse cx="155" cy="272" rx="18.5" ry="5" transform="rotate(-30 155 272)" stroke="#fff" stroke-width="1.1"/>
<ellipse cx="156" cy="273" rx="16" ry="3.4" transform="rotate(-28 156 273)" stroke="#231f20" stroke-width="2.6"/>
<ellipse cx="156" cy="273" rx="16" ry="3.4" transform="rotate(-28 156 273)" stroke="#fff" stroke-width="1.1"/>
<ellipse cx="128" cy="287.5" rx="16.5" ry="5.6" transform="rotate(-30 128 287.5)" stroke="#231f20" stroke-width="2.6"/>
<ellipse cx="128" cy="287.5" rx="16.5" ry="5.6" transform="rotate(-30 128 287.5)" stroke="#fff" stroke-width="1.1"/>
<ellipse cx="127" cy="288.5" rx="14" ry="3.8" transform="rotate(-27 127 288.5)" stroke="#231f20" stroke-width="2.6"/>
<ellipse cx="127" cy="288.5" rx="14" ry="3.8" transform="rotate(-27 127 288.5)" stroke="#fff" stroke-width="1.1"/>
<path d="M171.5,264.5 C180,263 186,268 185,276 C184,284 181,290 178,295" stroke="#231f20" stroke-width="0.9"/>
<path d="M124,300 C130,298 134,303 135.8,313" stroke="#231f20" stroke-width="2.8"/>
<path d="M122,300 C119,306 124,310 134,309" stroke="#231f20" stroke-width="0.8"/>
<ellipse cx="128" cy="323" rx="13" ry="5" transform="rotate(-22 128 323)" stroke="#231f20" stroke-width="2.6"/>
<ellipse cx="128" cy="323" rx="13" ry="5" transform="rotate(-22 128 323)" stroke="#fff" stroke-width="1.1"/>
<ellipse cx="129" cy="324" rx="11" ry="3.4" transform="rotate(-20 129 324)" stroke="#231f20" stroke-width="2.6"/>
<ellipse cx="129" cy="324" rx="11" ry="3.4" transform="rotate(-20 129 324)" stroke="#fff" stroke-width="1.1"/>
<ellipse cx="110" cy="330" rx="14" ry="4.5" transform="rotate(-14 110 330)" stroke="#231f20" stroke-width="2.6"/>
<ellipse cx="110" cy="330" rx="14" ry="4.5" transform="rotate(-14 110 330)" stroke="#fff" stroke-width="1.1"/>
<ellipse cx="111" cy="331" rx="12" ry="3" transform="rotate(-12 111 331)" stroke="#231f20" stroke-width="2.6"/>
<ellipse cx="111" cy="331" rx="12" ry="3" transform="rotate(-12 111 331)" stroke="#fff" stroke-width="1.1"/>
<path d="M57,336.5 L96,335.5" stroke="#231f20" stroke-width="2.2"/>
</g>
<path d="M167.5,301 L174.5,294.5 L180.5,300.5 L175.5,309.5 Z" fill="#231f20"/>
<rect x="137" y="306.5" width="10" height="9" fill="#231f20"/>
<path d="M147,309 L153,308.5 M147,313 L153,312.5" stroke="#231f20" stroke-width="1.4"/>
<rect x="29.5" y="334.5" width="4.5" height="4" fill="#fff" stroke="#231f20" stroke-width="0.8"/>
<rect x="34" y="333.5" width="23.5" height="5.5" fill="#231f20"/>
<circle cx="115" cy="270" r="9" fill="#231f20"/>
<text x="115" y="273.9" font-size="11" font-weight="700" fill="#fff" text-anchor="middle">E</text>
<rect x="29.9" y="351.7" width="77.6" height="69" fill="none" stroke="#231f20" stroke-width="1.1"/>
<text x="32.6" y="365.6" font-size="7.8" fill="#231f20" stroke="#231f20" stroke-width="0.2" textLength="72.1" lengthAdjust="spacingAndGlyphs">Bedienungsanleitung</text>
<circle cx="68.4" cy="384.5" r="9" fill="#231f20"/>
<text x="68.4" y="388.4" font-size="11" font-weight="700" fill="#fff" text-anchor="middle">F</text>
<circle cx="141.6" cy="382.5" r="9" fill="#231f20"/>
<text x="141.6" y="386.4" font-size="11" font-weight="700" fill="#fff" text-anchor="middle">G</text>
<g fill="#fff" stroke="#231f20" stroke-width="0.9">
<path d="M157,377 L171,373.5 L172,376 L169,377 L168,375.5 L157,379 Z"/>
<circle cx="153.5" cy="377" r="3.6"/>
<path d="M155,380 L166,389 L168,387.5 L157,378.5 Z"/>
<circle cx="152.5" cy="378.5" r="3.3"/>
</g>
<g fill="none" stroke="#231f20" stroke-width="0.9">
<ellipse cx="204.5" cy="334" rx="26" ry="22.5"/>
<ellipse cx="203" cy="332" rx="23" ry="21"/>
<ellipse cx="206" cy="336" rx="24" ry="19"/>
<ellipse cx="205" cy="333" rx="20" ry="17"/>
<path d="M200,312 C214,313 224,325 226,345 L227,366" stroke-width="1.6"/>
<path d="M184,350 C186,356 188,360 191,362" stroke-width="1.6"/>
</g>
<rect x="225" y="366" width="3.5" height="6.5" fill="#fff" stroke="#231f20" stroke-width="0.8"/>
<g transform="rotate(35 196 373)" fill="#fff" stroke="#231f20" stroke-width="0.9"><rect x="187" y="367" width="18" height="12"/><rect x="190" y="369.5" width="12" height="7"/><path d="M187,364 L187,382 M205,364 L205,382"/></g>
<circle cx="206.3" cy="332.1" r="9" fill="#231f20"/>
<text x="206.3" y="336.0" font-size="11" font-weight="700" fill="#fff" text-anchor="middle">D</text>
<g fill="none" stroke="#231f20" stroke-width="0.8" stroke-linejoin="round">
<path d="M628.0,233 L628.0,266.0" stroke="#555" stroke-width="0.7"/>
<path d="M631.2,233 L631.2,265.3" stroke="#555" stroke-width="0.7"/>
<path d="M634.4,233 L634.4,264.6" stroke="#555" stroke-width="0.7"/>
<path d="M637.6,233 L637.6,263.9" stroke="#555" stroke-width="0.7"/>
<path d="M640.8,233 L640.8,263.2" stroke="#555" stroke-width="0.7"/>
<path d="M644.0,233 L644.0,262.5" stroke="#555" stroke-width="0.7"/>
<path d="M647.2,233 L647.2,261.8" stroke="#555" stroke-width="0.7"/>
<path d="M650.4,233 L650.4,261.1" stroke="#555" stroke-width="0.7"/>
<path d="M653.6,233 L653.6,260.4" stroke="#555" stroke-width="0.7"/>
<path d="M656.8,233 L656.8,259.7" stroke="#555" stroke-width="0.7"/>
<path d="M660.0,233 L660.0,259.0" stroke="#555" stroke-width="0.7"/>
<path d="M663.2,233 L663.2,258.3" stroke="#555" stroke-width="0.7"/>
<path d="M666.4,233 L666.4,257.6" stroke="#555" stroke-width="0.7"/>
<path d="M669.6,233 L669.6,256.8" stroke="#555" stroke-width="0.7"/>
<path d="M672.8,233 L672.8,256.1" stroke="#555" stroke-width="0.7"/>
<path d="M676.0,233 L676.0,255.4" stroke="#555" stroke-width="0.7"/>
<path d="M679.2,233 L679.2,254.7" stroke="#555" stroke-width="0.7"/>
<path d="M682.4,233 L682.4,254.0" stroke="#555" stroke-width="0.7"/>
<path d="M685.6,233 L685.6,253.3" stroke="#555" stroke-width="0.7"/>
<path d="M688.8,233 L688.8,252.6" stroke="#555" stroke-width="0.7"/>
<rect x="636.2" y="233" width="3.6" height="31.5" fill="#231f20" stroke="none"/>
<path d="M691.8,233 L691.8,252.5"/>
<path d="M634,265.7 L691.1,252.7 L693.7,257.9 L695.6,297.8 L643,312.4 L641.1,270.9 Z" fill="#fff" stroke-width="1"/>
<path d="M641.1,270.9 L693.7,257.9"/>
<path d="M654.1,296 L683,289.5 L683.3,300.5 L654.5,307.2 Z" stroke-width="0.8"/>
<path d="M655.5,296.5 L670,293.2 L670,297.5 L655.5,300.8 Z" fill="#231f20" stroke="none"/>
<path d="M655,304.5 L683,298" stroke-width="1.2"/>
<path d="M640.5,287.5 C660,288 680,289 693.7,291.6 L693.7,289 C680,287 660,286 640.5,287.5" stroke-width="0.8"/>
<path d="M683,274.5 C688,276 689,282 688,285" stroke-width="0.8"/>
<path d="M613.2,244.2 L626.9,240.6 L632,244 L631.5,247.9 L632.4,258.8 L633.3,286 L633.3,308 L622.3,309.8 L611.4,306.2 L611.4,290.7 C607,285 603,281 603.2,278.8 C600.5,274 600,270 600.5,266.1 C603,257 608,250 613.2,244.2 Z" fill="#fff" stroke-width="0.9"/>
<path d="M613.2,244.2 L622.3,245.1 L631.5,247.9 M614.1,245 L611.4,291 M621.4,245.5 L621.8,309.5 M600.5,266.1 C604,272 608,277 611.4,279.8" stroke-width="0.7"/>
<path d="M615,301 L617.5,300.5 L617.5,307.5 M624,303 L629,302 L629,309 M635,293.5 L640,293 L640,309 L635,309.5 Z" stroke-width="0.7"/>
<path d="M633.3,266 L640.6,270.6" stroke-width="0.8"/>
<path d="M595,278.5 L640,287.8" stroke-width="0.6"/>
<path d="M695.6,274.2 C705,274 715,275 717.3,278 L717.7,289 C716,291 712,292 698.9,296 L695.6,296.5" fill="#fff" stroke-width="0.9"/>
<path d="M695.6,278.5 C703,278 711,279 714,280 L714,288" stroke-width="0.6"/>
<path d="M698.2,286.4 L698.2,294.9" stroke="#c8326e" stroke-width="0.8"/>
<path d="M712.5,290.3 L719.7,300.7" stroke-width="0.6"/>
<path d="M627.5,312.5 L634,312.5 L634,338.5 L615.5,336 L615.2,325 L627.5,324 Z" fill="#fff" stroke-width="0.8"/>
<path d="M627.5,317 L634,317 M632.5,313 L632.5,338" stroke-width="0.6"/>
<path d="M635.3,331.2 L645,331.9" stroke-width="0.6"/>
</g>
<g fill="#e2e2e2" stroke="#231f20" stroke-width="1">
<ellipse cx="1075.8" cy="341.8" rx="4.2" ry="5.4" transform="rotate(15 1075.8 341.8)"/>
<ellipse cx="1089.6" cy="335.9" rx="4.2" ry="5.4" transform="rotate(15 1089.6 335.9)"/>
<ellipse cx="1088.6" cy="350.6" rx="4.4" ry="5.8" transform="rotate(15 1088.6 350.6)"/>
</g>
<path d="M1035,352.5 L1077,362 C1083,364 1083,375 1076,376.5 L1034,367.5 C1028,366 1028,351.5 1035,352.5 Z" fill="#2a2a2a" stroke="#231f20" stroke-width="0.8"/>
<path d="M1034,356 C1044,357 1052,361 1066,363 M1033,361 C1045,363 1056,366 1070,369.5 M1040,358.5 C1046,362 1052,360 1060,363.5 M1036,364.5 C1046,366 1056,369 1068,372" stroke="#888" stroke-width="0.6" fill="none"/>
<ellipse cx="1077.5" cy="369" rx="4.6" ry="7" fill="#e2e2e2" stroke="#231f20" stroke-width="0.8"/>
<g fill="none" stroke="#231f20" stroke-linejoin="round">
<path d="M1137.6,340.8 L1198.9,354.5 L1235.9,424.6 L1120,399.6 L1120,396.5 Z" fill="#fff" stroke-width="1.1"/>
<path d="M1137.6,340.8 L1198.9,354.5 L1201.2,359 L1139,346 Z" fill="#231f20" stroke-width="0.8"/>
<path d="M1139.9,347.1 L1202.4,361.2" stroke-width="3.4"/>
<path d="M1138.6,351.4 L1205.2,366.4" stroke-width="3.2"/>
<path d="M1137.3,355.6 L1208.0,371.7" stroke-width="3.0"/>
<path d="M1136.0,359.8 L1210.7,376.9" stroke-width="2.8"/>
<path d="M1134.6,364.0 L1213.5,382.2" stroke-width="3.2"/>
<path d="M1133.3,368.2 L1216.3,387.4" stroke-width="3.2"/>
<path d="M1132.0,372.4 L1219.1,392.7" stroke-width="2.8"/>
<path d="M1130.8,376.4 L1221.7,397.6" stroke-width="1.4"/>
<path d="M1129.9,379.2 L1223.5,401.1" stroke-width="1.0"/>
<path d="M1128.8,382.5 L1225.7,405.3" stroke-width="1.0"/>
<path d="M1127.8,385.9 L1227.9,409.5" stroke-width="0.9"/>
<path d="M1126.2,391.0 L1231.3,415.8" stroke-width="1.0"/>
<path d="M1125.5,393.2 L1232.8,418.6" stroke-width="1.0"/>
<path d="M1137,342 L1121,396 M1140,343 L1125,397" stroke-width="2"/>
<ellipse cx="1136.5" cy="350.0" rx="2.6" ry="3.6" stroke-width="1.4"/>
<ellipse cx="1133.9" cy="357.5" rx="2.6" ry="3.6" stroke-width="1.4"/>
<ellipse cx="1131.3" cy="365.0" rx="2.6" ry="3.6" stroke-width="1.4"/>
<ellipse cx="1128.7" cy="372.5" rx="2.6" ry="3.6" stroke-width="1.4"/>
<ellipse cx="1126.1" cy="380.0" rx="2.6" ry="3.6" stroke-width="1.4"/>
<path d="M1121,399 L1236,424.6" stroke-width="0.9"/>
<path d="M1126.3,342 L1132,341 C1118,362 1104,384 1093,404.5 L1087.5,405.9 C1097,384 1110,362 1126.3,342 Z" fill="#fff" stroke-width="1.1"/>
<path d="M1129,342 C1115,363 1102,384 1090.5,405" stroke-width="1.2"/>
<path d="M1131,341.5 C1124,352 1118,362 1112,372" stroke-width="2"/>
<path d="M1087.5,405.9 L1117.6,397.1 L1119,399.6 L1090,410.9 Z" fill="#fff" stroke-width="1"/>
<path d="M1089,408.5 L1118,398.8" stroke-width="0.7"/>
</g>
<g stroke="#231f20" stroke-width="0.9" fill="#231f20">
<path d="M1099.5,339.8 L1116,344.3" /><path d="M1118.5,345 L1113.5,341.7 L1112.8,346.2 Z"/>
<path d="M1096.5,352.6 L1109.5,356" /><path d="M1111.8,356.7 L1106.8,353.5 L1106.2,358 Z"/>
<path d="M1086.7,372.3 L1112,378.5" /><path d="M1115.5,379.4 L1108.5,375 L1107.5,381.2 Z"/>
</g>
<g transform="translate(55.3,662.9) scale(1.0)" fill="none" stroke="#231f20" stroke-width="1.1" stroke-linejoin="round">
<path d="M177.1,-50.4 L177.1,2.1 L174.2,6.4" stroke-width="1.3"/>
<path d="M-28.6,42.3 L174.2,2.2 M-28.6,48.1 L174.2,6.4" stroke-width="1.1"/>
<path d="M0,34.9 L0,0 L125,-23.7 L125,6 Z" fill="#fff" stroke-width="1.4"/>
<path d="M2.2,34 L2.2,1.5" stroke-width="0.8"/>
<path d="M4.5,21.3 L123,-1.5 M4.5,26.1 L123,3.3 M2,33.9 L124,9.5" stroke-width="0.9"/>
<circle cx="10.2" cy="5.8" r="5" stroke-width="1.2"/><path d="M6.8,2.5 L13.6,9" stroke-width="0.9"/>
<path d="M6.3,16.5 L15,14.8 L15,17.7 L6.3,19.4 Z" fill="#231f20" stroke="none"/>
<path d="M17.9,-0.3 L42.1,-4.9 L42.1,13.6 L17.9,18.2 Z" stroke-width="1.2"/>
<path d="M21.5,1.5 L29,0 L29,14 L21.5,15.5 Z M29,0 L38.5,-2 L38.5,11.7 L29,13.6" stroke-width="1.2"/>
<path d="M44,-4 L48,-4.8 L48,1 L44,1.8 Z" stroke-width="0.8"/>
<path d="M53.5,-6.5 L53.5,-2.5 M53.5,0 L53.5,4 M53.5,6 L53.5,9" stroke-width="2.4"/>
<path d="M59.6,-8.5 L73.1,-11.1 L73.1,2 L59.6,4.6 Z" stroke-width="1.2"/>
<path d="M61,-6.5 L71.5,-8.5 L71.5,0.5 L61,2.6 Z M61,-6.5 L71.5,0.5" stroke-width="0.6"/>
<path d="M62,6.2 L71.5,4.4 L71.5,7 L62,8.8 Z" fill="#231f20" stroke="none"/>
<path d="M77.4,-12 L89.9,-14.4 L89.9,2 L77.4,4.4 Z" stroke-width="1.2"/>
<path d="M79,-10 L88.4,-11.8 L88.4,-2.5 L79,-0.7 Z M79,-10 L88.4,-2.5" stroke-width="0.6"/>
<path d="M78,0.5 L89.5,-1.7 L89.5,2.3 L78,4.5 Z" fill="#231f20" stroke="none"/>
<path d="M93.2,-15.2 L93.2,-4.5 M96.5,-15.8 L96.5,-5.2" stroke-width="0.8"/>
</g>
<path d="M215.5,688.4 L163.0,661.0 L165.9,655.5 L143.5,655.1 L156.6,673.2 L159.5,667.7 L211.9,695.2 Z" fill="#231f20"/>
<g fill="none" stroke="#231f20" stroke-width="1.35">
<ellipse cx="285.7" cy="670" rx="35.6" ry="36.3"/>
<ellipse cx="285.2" cy="671.5" rx="31.8" ry="31.5" transform="rotate(-15 285.7 670)"/>
<ellipse cx="285.0" cy="670.5" rx="26.5" ry="25.3"/>
<ellipse cx="288.0" cy="668.5" rx="28" ry="28.5" transform="rotate(30 285.7 670)"/>
<ellipse cx="282.0" cy="674" rx="30" ry="27" transform="rotate(70 285.7 670)" stroke-width="1.1"/>
<path d="M271.7,701 C281.7,705 293.7,704 303.7,698" stroke-width="2.2"/>
</g>
<rect x="228.6" y="700.4" width="12" height="4" fill="#fff" stroke="#231f20" stroke-width="0.9"/>
<path d="M232,700 L237.5,697" stroke="#231f20" stroke-width="0.6" fill="none"/>
<path d="M240.6,702.4 L263,701.8" stroke="#231f20" stroke-width="2" fill="none"/>
<path d="M268,705 C285,712 300,719 315,720" stroke="#231f20" stroke-width="2.2" fill="none"/>
<g fill="#fff" stroke="#231f20" stroke-width="1" transform="rotate(-14 327 717)">
<rect x="313" y="712.5" width="5" height="9"/><rect x="318" y="705.5" width="16" height="23"/><rect x="318" y="710" width="21" height="14"/><rect x="339" y="712" width="4.5" height="10" rx="2"/>
<path d="M322,705.5 L322,728.5 M330,705.5 L330,728.5"/>
</g>
<path d="M345.9,704.8 L363.4,635.5" stroke="#231f20" stroke-width="0.9"/>
<path d="M30.7,733.2 L196.4,733.2 M237.9,733.2 L405.2,733.2" stroke="#231f20" stroke-width="1"/>
<g transform="translate(55.3,810.4) scale(1.0)" fill="none" stroke="#231f20" stroke-width="1.1" stroke-linejoin="round">
<path d="M177.1,-50.4 L177.1,2.1 L174.2,6.4" stroke-width="1.3"/>
<path d="M-28.6,42.3 L174.2,2.2 M-28.6,48.1 L174.2,6.4" stroke-width="1.1"/>
<path d="M0,34.9 L0,0 L125,-23.7 L125,6 Z" fill="#fff" stroke-width="1.4"/>
<path d="M2.2,34 L2.2,1.5" stroke-width="0.8"/>
<path d="M4.5,21.3 L123,-1.5 M4.5,26.1 L123,3.3 M2,33.9 L124,9.5" stroke-width="0.9"/>
<circle cx="10.2" cy="5.8" r="5" stroke-width="1.2"/><path d="M6.8,2.5 L13.6,9" stroke-width="0.9"/>
<path d="M6.3,16.5 L15,14.8 L15,17.7 L6.3,19.4 Z" fill="#231f20" stroke="none"/>
<path d="M17.9,-0.3 L42.1,-4.9 L42.1,13.6 L17.9,18.2 Z" stroke-width="1.2"/>
<path d="M21.5,1.5 L29,0 L29,14 L21.5,15.5 Z M29,0 L38.5,-2 L38.5,11.7 L29,13.6" stroke-width="1.2"/>
<path d="M44,-4 L48,-4.8 L48,1 L44,1.8 Z" stroke-width="0.8"/>
<path d="M53.5,-6.5 L53.5,-2.5 M53.5,0 L53.5,4 M53.5,6 L53.5,9" stroke-width="2.4"/>
<path d="M59.6,-8.5 L73.1,-11.1 L73.1,2 L59.6,4.6 Z" stroke-width="1.2"/>
<path d="M61,-6.5 L71.5,-8.5 L71.5,0.5 L61,2.6 Z M61,-6.5 L71.5,0.5" stroke-width="0.6"/>
<path d="M62,6.2 L71.5,4.4 L71.5,7 L62,8.8 Z" fill="#231f20" stroke="none"/>
<path d="M77.4,-12 L89.9,-14.4 L89.9,2 L77.4,4.4 Z" stroke-width="1.2"/>
<path d="M79,-10 L88.4,-11.8 L88.4,-2.5 L79,-0.7 Z M79,-10 L88.4,-2.5" stroke-width="0.6"/>
<path d="M78,0.5 L89.5,-1.7 L89.5,2.3 L78,4.5 Z" fill="#231f20" stroke="none"/>
<path d="M93.2,-15.2 L93.2,-4.5 M96.5,-15.8 L96.5,-5.2" stroke-width="0.8"/>
</g>
<path d="M212.6,834.7 L142.7,810.2 L144.8,804.4 L122.6,807.2 L138.2,823.3 L140.2,817.4 L210.0,841.9 Z" fill="#231f20"/>
<g fill="none" stroke="#231f20" stroke-width="1.35">
<ellipse cx="285.6" cy="801" rx="35.6" ry="36.3"/>
<ellipse cx="285.1" cy="802.5" rx="31.8" ry="31.5" transform="rotate(-15 285.6 801)"/>
<ellipse cx="284.90000000000003" cy="801.5" rx="26.5" ry="25.3"/>
<ellipse cx="287.90000000000003" cy="799.5" rx="28" ry="28.5" transform="rotate(30 285.6 801)"/>
<ellipse cx="281.90000000000003" cy="805" rx="30" ry="27" transform="rotate(70 285.6 801)" stroke-width="1.1"/>
<path d="M271.6,832 C281.6,836 293.6,835 303.6,829" stroke-width="2.2"/>
</g>
<rect x="215" y="831.4" width="5" height="4.4" fill="#999"/>
<rect x="220" y="830.2" width="13.8" height="6.3" fill="#231f20"/>
<rect x="233.8" y="832" width="6.3" height="3" fill="#231f20"/>
<path d="M240,833.4 L262.7,833" stroke="#231f20" stroke-width="1.6" fill="none"/>
<path d="M273.9,837.7 C290,846 305,852 319,848" stroke="#231f20" stroke-width="2" fill="none"/>
<path d="M319,846 L337.8,843.5 L337.8,848.5 L319,851 Z" fill="#231f20"/>
<rect x="337.2" y="844" width="3.8" height="4" fill="#999" transform="rotate(-8 339 846)"/>
<path d="M346.6,835.2 L363.7,765.2" stroke="#231f20" stroke-width="0.9"/>
<g transform="translate(495.5,731.6) scale(0.934)" fill="none" stroke="#231f20" stroke-width="1.1" stroke-linejoin="round">
<path d="M177.1,-75.5 L177.1,2.1 L174.2,6.4" stroke-width="1.3"/>
<path d="M-28,-9.5 L176.5,-49.5" stroke-width="1"/>
<path d="M-28.6,42.3 L174.2,2.2 M-28.6,48.1 L174.2,6.4" stroke-width="1.1"/>
<path d="M0,34.9 L0,0 L125,-23.7 L125,6 Z" fill="#fff" stroke-width="1.4"/>
<path d="M2.2,34 L2.2,1.5" stroke-width="0.8"/>
<path d="M4.5,21.3 L123,-1.5 M4.5,26.1 L123,3.3 M2,33.9 L124,9.5" stroke-width="0.9"/>
<circle cx="10.2" cy="5.8" r="5" stroke-width="1.2"/><path d="M6.8,2.5 L13.6,9" stroke-width="0.9"/>
<path d="M6.3,16.5 L15,14.8 L15,17.7 L6.3,19.4 Z" fill="#231f20" stroke="none"/>
<path d="M17.9,-0.3 L42.1,-4.9 L42.1,13.6 L17.9,18.2 Z" stroke-width="1.2"/>
<path d="M21.5,1.5 L29,0 L29,14 L21.5,15.5 Z M29,0 L38.5,-2 L38.5,11.7 L29,13.6" stroke-width="1.2"/>
<path d="M44,-4 L48,-4.8 L48,1 L44,1.8 Z" stroke-width="0.8"/>
<path d="M53.5,-6.5 L53.5,-2.5 M53.5,0 L53.5,4 M53.5,6 L53.5,9" stroke-width="2.4"/>
<path d="M59.6,-8.5 L73.1,-11.1 L73.1,2 L59.6,4.6 Z" stroke-width="1.2"/>
<path d="M61,-6.5 L71.5,-8.5 L71.5,0.5 L61,2.6 Z M61,-6.5 L71.5,0.5" stroke-width="0.6"/>
<path d="M62,6.2 L71.5,4.4 L71.5,7 L62,8.8 Z" fill="#231f20" stroke="none"/>
<path d="M77.4,-12 L89.9,-14.4 L89.9,2 L77.4,4.4 Z" stroke-width="1.2"/>
<path d="M79,-10 L88.4,-11.8 L88.4,-2.5 L79,-0.7 Z M79,-10 L88.4,-2.5" stroke-width="0.6"/>
<path d="M78,0.5 L89.5,-1.7 L89.5,2.3 L78,4.5 Z" fill="#231f20" stroke="none"/>
<path d="M93.2,-15.2 L93.2,-4.5 M96.5,-15.8 L96.5,-5.2" stroke-width="0.8"/>
</g>
<path d="M553.1,774.8 L519.1,749.4 L521.3,746.5 L509.2,744.3 L514.7,755.3 L516.9,752.3 L550.9,777.6 Z" fill="#231f20"/>
<rect x="560.5" y="779" width="4.8" height="3.6" fill="#fff" stroke="#231f20" stroke-width="0.7"/>
<rect x="565.3" y="778.4" width="22.3" height="4.8" fill="#231f20"/>
<g fill="none" stroke-linecap="round">
<path d="M587.6,780.8 C600,781 615,779 630,776" stroke="#231f20" stroke-width="1.6"/>
<ellipse cx="640" cy="773" rx="19" ry="4.5" transform="rotate(-12 640 773)" stroke="#231f20" stroke-width="2.4"/>
<ellipse cx="640" cy="773" rx="19" ry="4.5" transform="rotate(-12 640 773)" stroke="#fff" stroke-width="1"/>
<ellipse cx="660" cy="770" rx="12" ry="5" transform="rotate(-25 660 770)" stroke="#231f20" stroke-width="2.4"/>
<ellipse cx="660" cy="770" rx="12" ry="5" transform="rotate(-25 660 770)" stroke="#fff" stroke-width="1"/>
<ellipse cx="646" cy="775" rx="15" ry="3.5" transform="rotate(-10 646 775)" stroke="#231f20" stroke-width="2.4"/>
<ellipse cx="646" cy="775" rx="15" ry="3.5" transform="rotate(-10 646 775)" stroke="#fff" stroke-width="1"/>
<path d="M681.1,740.2 L662.8,739.5 C650,740 643,747 643,755 C643,760 646,763 650,764" stroke="#231f20" stroke-width="2.4"/>
<path d="M808.6,681 C822,684 828,695 828,712 L826,730" stroke="#231f20" stroke-width="1.6"/>
<path d="M785.9,746.6 C787,760 792,766 798,763 C805,758 812,748 816,743" stroke="#231f20" stroke-width="0.8"/>
<ellipse cx="822" cy="743" rx="32" ry="5" transform="rotate(72 822 743)" stroke="#231f20" stroke-width="2.4"/>
<ellipse cx="822" cy="743" rx="32" ry="5" transform="rotate(72 822 743)" stroke="#fff" stroke-width="1.1"/>
<ellipse cx="823" cy="742" rx="28" ry="4" transform="rotate(76 823 742)" stroke="#231f20" stroke-width="2.4"/>
<ellipse cx="823" cy="742" rx="28" ry="4" transform="rotate(76 823 742)" stroke="#fff" stroke-width="1.1"/>
</g>
<rect x="686.2" y="724.7" width="71" height="30.6" rx="2.8" fill="#231f20"/>
<rect x="681.1" y="737.5" width="5.5" height="5.5" fill="#231f20"/>
<path d="M774,738.7 L764,738.7" stroke="#231f20" stroke-width="1.1"/><path d="M761.3,738.7 L765.5,736.6 L765.5,740.8 Z" fill="#231f20"/>
<path d="M789.5,679.2 L777,677.6" stroke="#231f20" stroke-width="0.9"/><path d="M774.9,677.3 L778.5,675.6 L778.2,679.6 Z" fill="#231f20"/>
<path d="M777.3,735.6 L789.1,735.6 L789.1,744 L786.5,746.6 L784.5,746.6 L784.5,741.5 L777.3,741.5 Z" fill="#231f20"/>
<rect x="798.6" y="675.5" width="10" height="10" fill="#231f20" transform="rotate(8 803.6 680.5)"/>
<path d="M791.3,677.5 L798.6,678 M791.3,681 L798.6,681.8 M792,679.2 L798,680" stroke="#231f20" stroke-width="1.1"/>
<rect x="745.6" y="654.4" width="25.6" height="46.8" fill="#fff" stroke="#231f20" stroke-width="1.1"/>
<circle cx="758.5" cy="667.3" r="8" fill="#fff" stroke="#231f20" stroke-width="0.9"/>
<rect x="755.6" y="663.0999999999999" width="1.6" height="3.4" fill="none" stroke="#231f20" stroke-width="0.6"/>
<rect x="759.8" y="663.0999999999999" width="1.6" height="3.4" fill="none" stroke="#231f20" stroke-width="0.6"/>
<path d="M757.5,670.8 A1.1,1.1 0 0 1 759.7,670.8 L759.7,671.5 L757.5,671.5 Z" fill="none" stroke="#231f20" stroke-width="0.5"/>
<circle cx="758.5" cy="687.4" r="8" fill="#fff" stroke="#231f20" stroke-width="0.9"/>
<rect x="755.6" y="683.1999999999999" width="1.6" height="3.4" fill="none" stroke="#231f20" stroke-width="0.6"/>
<rect x="759.8" y="683.1999999999999" width="1.6" height="3.4" fill="none" stroke="#231f20" stroke-width="0.6"/>
<path d="M757.5,690.9 A1.1,1.1 0 0 1 759.7,690.9 L759.7,691.6 L757.5,691.6 Z" fill="none" stroke="#231f20" stroke-width="0.5"/>
<circle cx="771.8" cy="765.2" r="8.7" fill="#231f20"/>
<text x="771.8" y="769.1" font-size="11" font-weight="700" fill="#fff" text-anchor="middle">A</text>
<circle cx="604.9" cy="800.1" r="8.7" fill="#231f20"/>
<text x="604.9" y="804.0" font-size="11" font-weight="700" fill="#fff" text-anchor="middle">B</text>
</svg>
</body></html>
